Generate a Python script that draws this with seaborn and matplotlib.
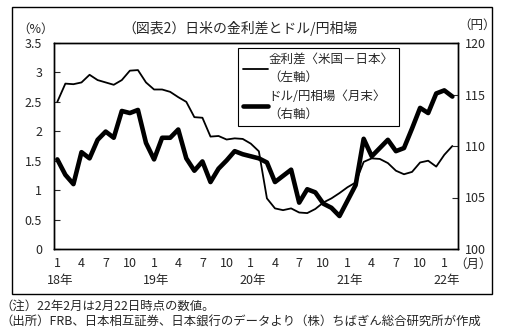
import matplotlib
matplotlib.use("Agg")
import matplotlib.pyplot as plt
import matplotlib.transforms as mtransforms
from matplotlib.patches import Rectangle
import numpy as np
import pandas as pd
import seaborn as sns

# Monthly series, Jan 2018 - Feb 2022
months = pd.period_range("2018-01", "2022-02", freq="M")

# US-Japan interest rate gap (%), left axis
rate_gap = [
    2.50, 2.81, 2.80, 2.83, 2.96, 2.87, 2.83, 2.79, 2.87, 3.03, 3.04, 2.83,
    2.71, 2.71, 2.67, 2.58, 2.50, 2.24, 2.23, 1.91, 1.92, 1.86, 1.88, 1.87,
    1.79, 1.66, 0.86, 0.69, 0.66, 0.69, 0.62, 0.61, 0.68, 0.79, 0.86, 0.95,
    1.05, 1.13, 1.48, 1.54, 1.53, 1.46, 1.33, 1.27, 1.31, 1.47, 1.50, 1.40,
    1.60, 1.75,
]

# USD/JPY month-end rate (yen), right axis
usd_jpy = [
    108.7, 107.2, 106.3, 109.4, 108.8, 110.6, 111.4, 110.8, 113.4, 113.2, 113.5, 110.3,
    108.7, 110.8, 110.8, 111.6, 108.8, 107.6, 108.5, 106.5, 107.8, 108.6, 109.5, 109.2,
    109.0, 108.8, 108.4, 106.5, 107.1, 107.7, 104.5, 105.8, 105.5, 104.4, 104.0, 103.2,
    104.7, 106.2, 110.7, 109.0, 109.8, 110.6, 109.5, 109.8, 111.7, 113.7, 113.2, 115.1,
    115.4, 114.8,
]

month_labels = ["1", "4", "7", "10"]
year_labels = ["18年", "19年", "20年", "21年", "22年"]
left_ticks = [0, 0.5, 1, 1.5, 2, 2.5, 3, 3.5]
right_ticks = [100, 105, 110, 115, 120]

title = "（図表2）日米の金利差とドル/円相場"
gap_label = "金利差〈米国－日本〉\n（左軸）"
fx_label = "ドル/円相場〈月末〉\n（右軸）"
note1 = "（注）22年2月は2月22日時点の数値。"
note2 = "（出所）FRB、日本相互証券、日本銀行のデータより（株）ちばぎん総合研究所が作成"

sns.set_style("white")
plt.rcParams["font.family"] = ["Noto Sans CJK JP", "DejaVu Sans"]

df = pd.DataFrame({
    "idx": np.arange(len(months)),
    "gap": rate_gap,
    "usdjpy": usd_jpy,
})

FS = 9
W, H = 506, 332
fig = plt.figure(figsize=(W / 100, H / 100), dpi=100)
fig.patch.set_facecolor("white")

# outer frame around the chart
fig.patches.append(Rectangle((12 / W, 1 - 294 / H), 480 / W, 287 / H,
                             transform=fig.transFigure, fill=False,
                             edgecolor="black", linewidth=1.0, zorder=0))

ax = fig.add_axes([54 / W, 1 - 249 / H, 404 / W, 206 / H])
ax2 = ax.twinx()

sns.lineplot(data=df, x="idx", y="gap", ax=ax, color="black",
             linewidth=1.3, label=gap_label, legend=False)
sns.lineplot(data=df, x="idx", y="usdjpy", ax=ax2, color="black",
             linewidth=3.3, label=fx_label, legend=False)

ax.set_xlim(-0.41, 49.7)
ax.set_ylim(0, 3.5)
ax2.set_ylim(100, 120)

ax.set_xlabel("")
ax.set_ylabel("")
ax2.set_ylabel("")

xt = list(range(0, len(months), 3))
ax.set_xticks(xt)
ax.set_xticklabels([month_labels[(i // 3) % 4] for i in xt], fontsize=FS)
ax.tick_params(axis="x", length=0, pad=5.5)

ax.set_yticks(left_ticks)
ax.set_yticklabels([f"{v:g}" for v in left_ticks], fontsize=FS)
ax.tick_params(axis="y", direction="in", length=4.5, width=0.8, pad=8.5)

ax2.set_yticks(right_ticks)
ax2.set_yticklabels([str(v) for v in right_ticks], fontsize=FS)
ax2.tick_params(axis="y", direction="in", length=4, width=0.8, pad=5)

for a in (ax, ax2):
    for s in a.spines.values():
        s.set_color("black")
        s.set_linewidth(1.0)

trans = mtransforms.blended_transform_factory(ax.transData, ax.transAxes)
for k, lab in enumerate(year_labels):
    ax.text(12 * k + 0.3, -0.155, lab, transform=trans, ha="center",
            va="center", fontsize=FS, clip_on=False)
ax.text(51.6, -0.073, "（月）", transform=trans, ha="center", va="center",
        fontsize=FS, clip_on=False)

fig.text(240 / W, 1 - 29 / H, title, ha="center", va="center", fontsize=10)
fig.text(36 / W, 1 - 29 / H, "（%）", ha="center", va="center", fontsize=FS)
fig.text(477 / W, 1 - 25 / H, "（円）", ha="center", va="center", fontsize=FS)

h1, l1 = ax.get_legend_handles_labels()
h2, l2 = ax2.get_legend_handles_labels()
leg = ax2.legend(h1 + h2, l1 + l2, loc="upper left",
                 bbox_to_anchor=((238 - 54) / 404, (249 - 48) / 206),
                 borderaxespad=0, fontsize=FS, handlelength=2.0,
                 handletextpad=0.05, labelspacing=0.5, borderpad=0.4,
                 fancybox=False, framealpha=1, edgecolor="black")
leg.get_frame().set_linewidth(0.8)
for t in leg.get_texts():
    t.set_multialignment("left")
    t.set_linespacing(1.5)

fig.text(0, 1 - 306 / H, note1, ha="left", va="center", fontsize=8.9)
fig.text(0, 1 - 322 / H, note2, ha="left", va="center", fontsize=8.9)

fig.savefig("out.png", dpi=100, facecolor="white")
